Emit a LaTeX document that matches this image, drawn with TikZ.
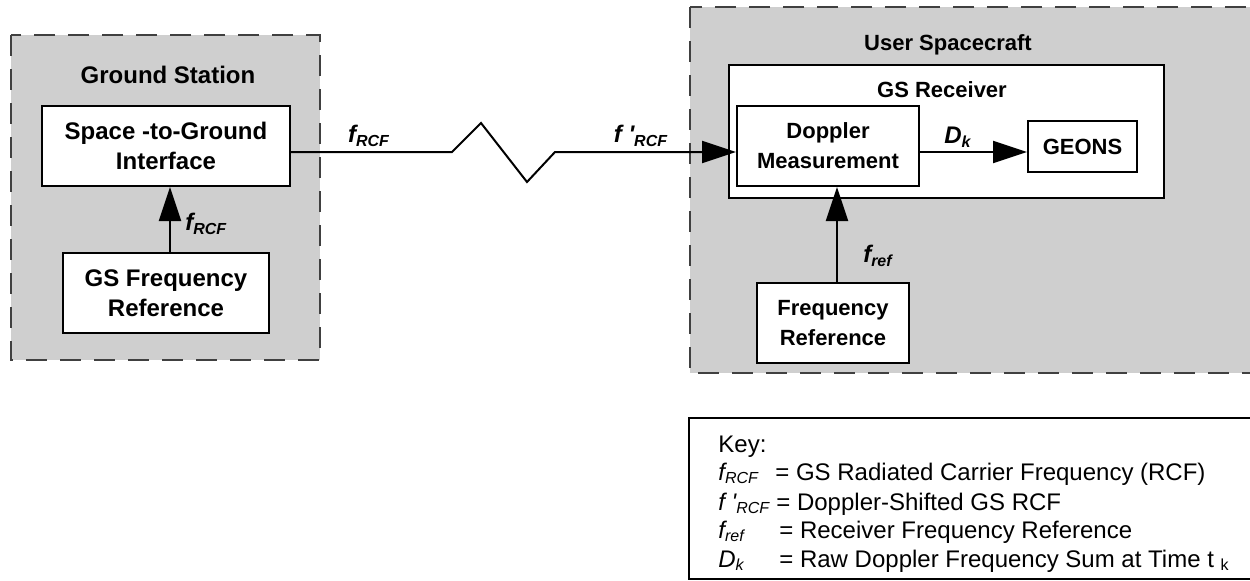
\documentclass[tikz,border=0pt]{standalone}
\usepackage{fontspec}
\setmainfont{Liberation Sans}[Ligatures=TeXOff]
\usetikzlibrary{arrows.meta}
\definecolor{panel}{gray}{0.81}
\begin{document}
\begin{tikzpicture}[x=0.5pt,y=-0.5pt,
  region/.style={draw=black!75, fill=panel, line width=0.6pt, dash pattern=on 10.5pt off 6.5pt},
  blk/.style={draw=black, fill=white, line width=1pt, align=center, inner sep=0pt,
              font=\bfseries\fontsize{11}{15}\selectfont},
  gsblk/.style={blk, font=\bfseries\fontsize{12}{15}\selectfont},
  ttl/.style={font=\bfseries\fontsize{11}{13}\selectfont, inner sep=0pt},
  lbl/.style={font=\bfseries\itshape\fontsize{12}{14}\selectfont, inner sep=0pt},
  sig/.style={line width=1pt, line join=miter, -{Triangle[length=17pt,width=11pt]}},
  keytxt/.style={font=\fontsize{12}{14}\selectfont, anchor=base west, inner sep=0pt},
  keysym/.style={keytxt, font=\itshape\fontsize{12}{14}\selectfont}
]
\useasboundingbox (0,0) rectangle (1250,580);
\clip (0,0) rectangle (1250,580);

% ground segment
\path[region] (11,35) rectangle (320,360);
\node[ttl, font=\bfseries\fontsize{12}{14}\selectfont] (gstitle) at (168,75) {Ground Station};
\node[gsblk, minimum width=124pt, minimum height=40pt] (s2g) at (166,146) {Space -to-Ground\\Interface};
\node[gsblk, minimum width=103pt, minimum height=40pt] (gsfr) at (166,293) {GS Frequency\\Reference};
\coordinate (gsx) at (170,0);
\draw[sig] (gsfr.north -| gsx) -- (s2g.south -| gsx);
\node[lbl, anchor=west] (gsflbl) at (185,224) {f\textsubscript{RCF}};

% space segment
\path[region] (690,7) rectangle (1265,373);
\node[ttl] (sctitle) at (948,45) {User Spacecraft};
\node[blk, minimum width=217.5pt, minimum height=66.5pt] (rx) at (946.5,131.5) {};
\node[ttl] (rxtitle) at (942,90) {GS Receiver};
\node[blk, minimum width=91pt, minimum height=40pt] (dm) at (828,146) {Doppler\\Measurement};
\node[blk, minimum width=54.5pt, minimum height=25.5pt] (geons) at (1082.5,146.5) {GEONS};
\node[blk, minimum width=76pt, minimum height=40pt] (fr) at (833,323) {Frequency\\Reference};

% RF link with zigzag
\coordinate (lk) at (0,152);
\coordinate (z1) at (452,152);
\coordinate (z2) at (481,123);
\coordinate (z3) at (527,182);
\coordinate (z4) at (555,152);
\draw[sig] (s2g.east |- lk) -- (z1) -- (z2) -- (z3) -- (z4) -- (dm.west |- lk);
\node[lbl] (up) at (369,136) {f\textsubscript{RCF}};
\node[lbl] (down) at (641,136) {f '\textsubscript{RCF}};

% receiver internals
\draw[sig] (dm.east |- lk) -- (geons.west |- lk);
\node[lbl] (dk) at (958,137) {D\textsubscript{k}};
\coordinate (frx) at (837,0);
\draw[sig] (fr.north -| frx) -- (dm.south -| frx);
\node[lbl] (fref) at (878,256) {f\textsubscript{ref}};

% legend
\draw[line width=1pt, fill=white] (689,418) rectangle (1265,578.5);
\node[keytxt] (k0) at (718,452) {Key:};
\node[keysym] (k1s) at (718,480) {f\textsubscript{RCF}};
\node[keytxt] (k1) at (775,480) {= GS Radiated Carrier Frequency (RCF)};
\node[keysym] (k2s) at (718,510) {f '\textsubscript{RCF}};
\node[keytxt] (k2) at (776,510) {= Doppler-Shifted GS RCF};
\node[keysym] (k3s) at (718,538) {f\textsubscript{ref}};
\node[keytxt] (k3) at (779,538) {= Receiver Frequency Reference};
\node[keysym] (k4s) at (718,567) {D\textsubscript{k}};
\node[keytxt] (k4) at (779,567) {= Raw Doppler Frequency Sum at Time t \textsubscript{k}};
\end{tikzpicture}
\end{document}
